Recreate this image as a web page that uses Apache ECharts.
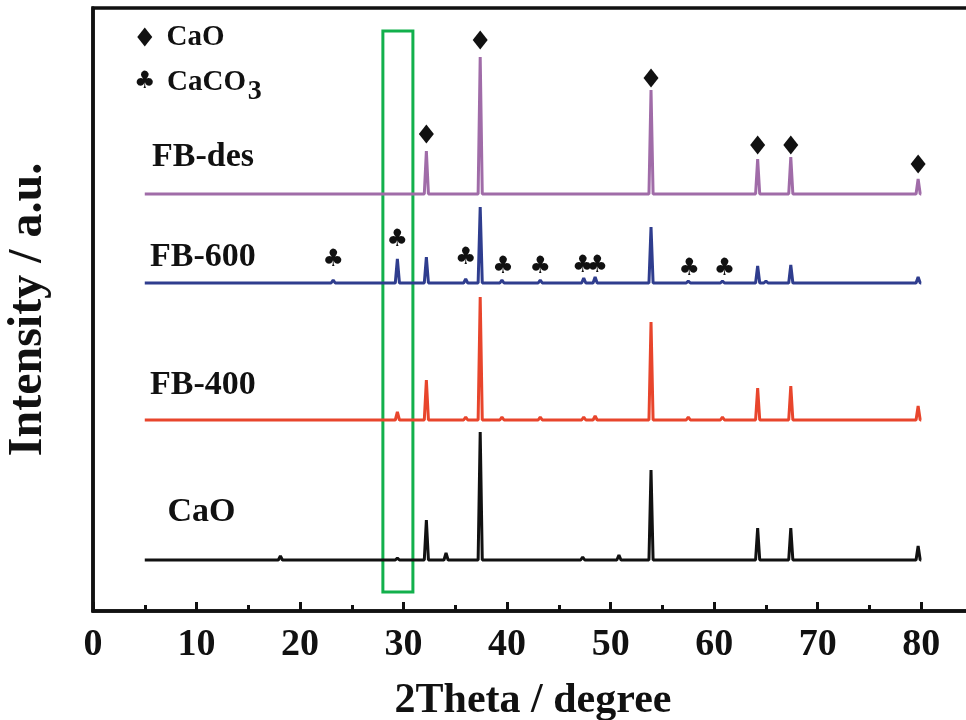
<!DOCTYPE html>
<html>
<head>
<meta charset="utf-8">
<script src="https://cdn.jsdelivr.net/npm/echarts@6/dist/echarts.min.js"></script>
<style>
  html, body { margin: 0; padding: 0; background: #fff; }
  #chart { width: 966px; height: 720px; }
</style>
</head>
<body>
<div id="chart"></div>
<script>
// 2Theta range of each pattern
const scanStart = 5;
const scanEnd = 80;
const peakHalfWidth = 0.2;

// baselines and peaks [2Theta, intensity] (a.u., stacked)
const desBase = 417;
const desPeaks = [[32.2, 460], [37.4, 554], [53.9, 521], [64.2, 452], [67.4, 454], [79.7, 432]];

const fb600Base = 328;
const fb600Peaks = [[23.2, 331], [29.4, 352], [32.2, 354], [36.0, 332], [37.4, 404], [39.5, 331],
  [43.2, 331], [47.4, 333], [48.5, 334], [53.9, 384], [57.5, 330], [60.8, 330],
  [64.2, 345], [65.0, 330], [67.4, 346], [79.7, 334]];

const fb400Base = 191;
const fb400Peaks = [[29.4, 199], [32.2, 231], [36.0, 194], [37.4, 314], [39.5, 194], [43.2, 194],
  [47.4, 194], [48.5, 195], [53.9, 289], [57.5, 194], [60.8, 194], [64.2, 223],
  [67.4, 225], [79.7, 205]];

const caoBase = 51;
const caoPeaks = [[18.1, 55], [29.4, 53], [32.2, 91], [34.1, 58], [37.4, 179], [47.3, 54],
  [50.8, 56], [53.9, 141], [64.2, 83], [67.4, 83], [79.7, 65]];

// phase markers
const caoMarks = [[32.2, 477], [37.4, 571], [53.9, 533], [64.2, 466], [67.4, 466], [79.7, 447]];
const caco3Marks = [[23.2, 351], [29.4, 371], [36.0, 353], [39.6, 344], [43.2, 344], [47.3, 345],
  [48.7, 345], [57.6, 342], [61.0, 342]];

// text labels: [2Theta, intensity, text]
const sampleLabels = [[5.7, 454, "FB-des"], [5.5, 354, "FB-600"], [5.5, 226, "FB-400"], [7.2, 99, "CaO"]];
const legendDiamond = [[5.0, 574]];
const legendClub = [[5.0, 529]];
const legendText = [[7.1, 573, "CaO"], [7.15, 528, "CaCO"]];
const legendSub = [[14.95, 519, "3"]];

// highlighted region
const boxRange = [28.0, 30.9];
const boxIntensity = [19, 580];

// labelled x ticks
const xTicks = [0, 10, 20, 30, 40, 50, 60, 70, 80];
const majorTickLen = 9;
const lastLabel = 80;

function pattern(base, peaks) {
  const pts = [[scanStart, base]];
  peaks.forEach(function (p) {
    pts.push([p[0] - peakHalfWidth, base], [p[0], p[1]], [p[0] + peakHalfWidth, base]);
  });
  pts.push([scanEnd, base]);
  return pts;
}

const serif = "Liberation Serif";
const chart = echarts.init(document.getElementById("chart"));

function lineSeries(name, data, color) {
  return {
    name: name,
    type: "line",
    data: data,
    showSymbol: false,
    lineStyle: { color: color, width: 3 },
    itemStyle: { color: color },
    animation: false,
  };
}

function textLabel(size, align) {
  return {
    show: true,
    position: "inside",
    align: align,
    verticalAlign: "middle",
    formatter: function (p) { return p.name; },
    color: "#111",
    opacity: 1,
    fontFamily: serif,
    fontWeight: "bold",
    fontSize: size,
  };
}

function textSeries(data, label, extra) {
  return Object.assign({
    type: "scatter",
    symbolSize: 1,
    itemStyle: { color: "rgba(255,255,255,0)", opacity: 1 },
    data: data.map(function (d) { return { value: [d[0], d[1]], name: d[2] }; }),
    label: label,
    animation: false,
    z: 5,
  }, extra || {});
}

const clubLabel = textLabel(24, "center");
clubLabel.fontFamily = "DejaVu Sans";
clubLabel.fontWeight = "normal";

const option = {
  backgroundColor: "#fff",
  grid: {
    left: 93,
    top: 8,
    height: 603,
    width: 880,
    outerBoundsMode: "none",
    show: true,
    borderColor: "#111",
    borderWidth: 3.5,
  },
  xAxis: {
    type: "value",
    min: 0,
    max: 85,
    interval: 10,
    splitLine: { show: false },
    axisLine: { lineStyle: { color: "#111", width: 3.5 } },
    axisTick: { show: true, inside: true, length: majorTickLen, lineStyle: { color: "#111", width: 3 } },
    minorTick: { show: true, splitNumber: 2, length: 6, lineStyle: { color: "#111", width: 3 } },
    axisLabel: {
      color: "#111",
      fontFamily: serif,
      fontWeight: "bold",
      fontSize: 38,
      margin: 15,
      formatter: function (v) { return v > lastLabel ? "" : String(v); },
    },
    name: "2Theta / degree",
    nameLocation: "middle",
    nameGap: 69,
    nameTextStyle: { color: "#111", fontFamily: serif, fontWeight: "bold", fontSize: 42 },
  },
  yAxis: {
    type: "value",
    min: 0,
    max: 603,
    splitLine: { show: false },
    axisLine: { show: true, lineStyle: { color: "#111", width: 3.5 } },
    axisTick: { show: false },
    axisLabel: { show: false },
    name: "Intensity / a.u.",
    nameLocation: "middle",
    nameGap: 40,
    nameTextStyle: { color: "#111", fontFamily: serif, fontWeight: "bold", fontSize: 48 },
  },
  series: [
    lineSeries("CaO", pattern(caoBase, caoPeaks), "#111111"),
    lineSeries("FB-400", pattern(fb400Base, fb400Peaks), "#e8452c"),
    lineSeries("FB-600", pattern(fb600Base, fb600Peaks), "#2f3d8e"),
    lineSeries("FB-des", pattern(desBase, desPeaks), "#a06ca8"),
    {
      type: "scatter",
      data: caoMarks.concat(legendDiamond),
      symbol: "diamond",
      symbolSize: [15, 19],
      itemStyle: { color: "#111", opacity: 1 },
      animation: false,
      z: 5,
    },
    textSeries(caco3Marks.concat(legendClub).map(function (d) { return [d[0], d[1], "\u2663"]; }), clubLabel),
    textSeries(sampleLabels, textLabel(34, "left")),
    textSeries(legendText, textLabel(29, "left")),
    textSeries(legendSub, textLabel(28, "left"), {
      markArea: {
        silent: true,
        itemStyle: { color: "rgba(0,0,0,0)", borderColor: "#12b04c", borderWidth: 3 },
        data: [[{ xAxis: boxRange[0], yAxis: boxIntensity[0] }, { xAxis: boxRange[1], yAxis: boxIntensity[1] }]],
      },
      // major ticks on the bottom axis, pointing inward
      markLine: {
        silent: true,
        symbol: "none",
        label: { show: false },
        lineStyle: { color: "#111", width: 3, type: "solid" },
        data: xTicks.map(function (t) { return [{ coord: [t, 0] }, { coord: [t, majorTickLen] }]; }),
      },
      z: 6,
    }),
  ],
};
chart.setOption(option);
window.onresize = function () {
  chart.resize();
};
</script>
</body>
</html>
